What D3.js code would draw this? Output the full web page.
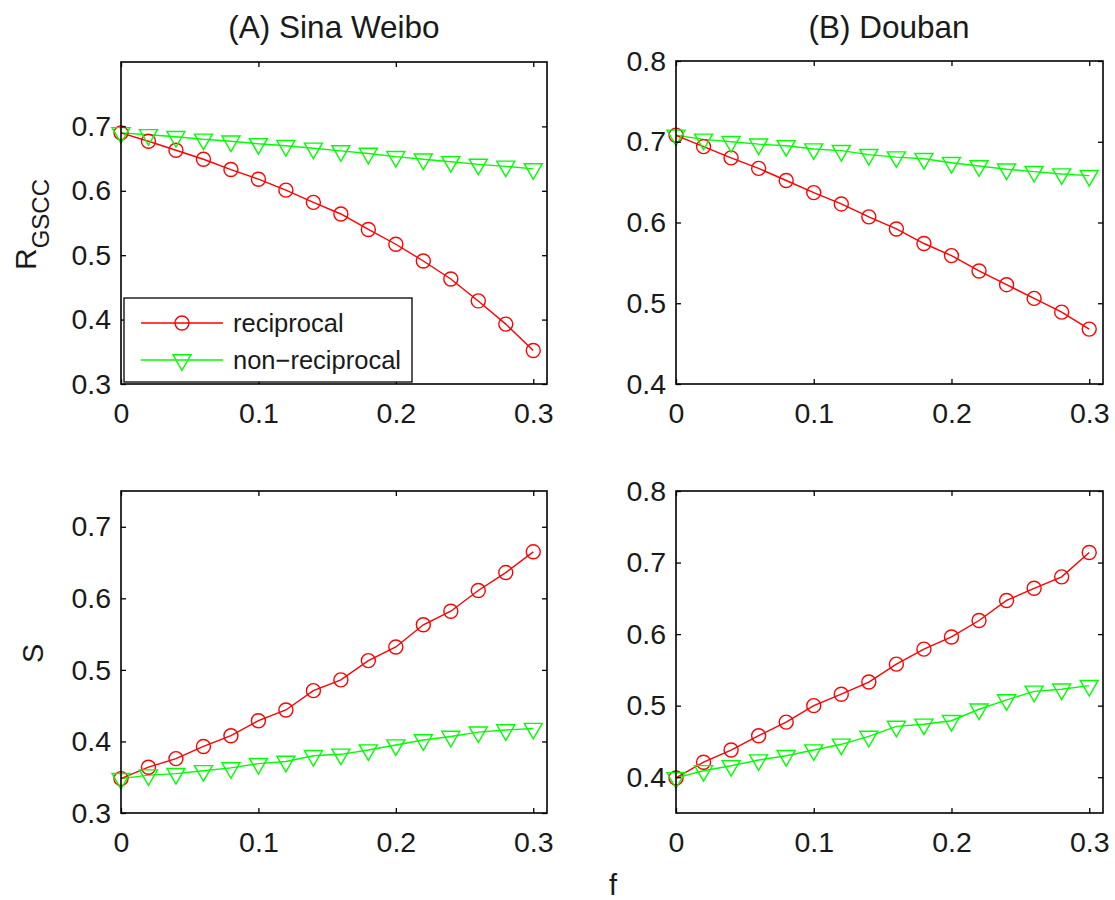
<!DOCTYPE html>
<html>
<head>
<meta charset="utf-8">
<script src="https://cdn.jsdelivr.net/npm/d3@7"></script>
<style>
  body { margin: 0; background: #fff; }
  text { font-family: "Liberation Sans", Arial, Helvetica, sans-serif; fill: #1a1a1a; }
</style>
</head>
<body>
<svg id="chart" width="1115" height="900"></svg>
<script>
// fraction of removed links
const fValues = [0, 0.02, 0.04, 0.06, 0.08, 0.10, 0.12, 0.14, 0.16, 0.18, 0.20, 0.22, 0.24, 0.26, 0.28, 0.30];

// (A) Sina Weibo
const weiboRRec = [0.690, 0.677, 0.663, 0.649, 0.633, 0.618, 0.601, 0.582, 0.564, 0.540, 0.517, 0.491, 0.463, 0.429, 0.393, 0.352];
const weiboRNon = [0.690, 0.687, 0.684, 0.680, 0.677, 0.673, 0.670, 0.666, 0.662, 0.658, 0.653, 0.649, 0.645, 0.641, 0.638, 0.634];
const weiboSRec = [0.348, 0.364, 0.376, 0.393, 0.408, 0.429, 0.444, 0.471, 0.486, 0.513, 0.532, 0.563, 0.582, 0.611, 0.636, 0.665];
const weiboSNon = [0.348, 0.353, 0.355, 0.359, 0.363, 0.369, 0.372, 0.380, 0.382, 0.388, 0.395, 0.402, 0.407, 0.413, 0.416, 0.418];

// (B) Douban
const doubanRRec = [0.708, 0.694, 0.680, 0.667, 0.652, 0.637, 0.623, 0.607, 0.592, 0.574, 0.559, 0.540, 0.523, 0.506, 0.489, 0.468];
const doubanRNon = [0.708, 0.703, 0.700, 0.697, 0.695, 0.691, 0.689, 0.684, 0.681, 0.679, 0.674, 0.670, 0.666, 0.663, 0.660, 0.658];
const doubanSRec = [0.399, 0.421, 0.438, 0.458, 0.477, 0.500, 0.516, 0.533, 0.558, 0.579, 0.596, 0.619, 0.647, 0.664, 0.680, 0.714];
const doubanSNon = [0.399, 0.409, 0.416, 0.424, 0.430, 0.438, 0.446, 0.457, 0.471, 0.474, 0.479, 0.495, 0.508, 0.520, 0.523, 0.528];

const xTicks = [0, 0.1, 0.2, 0.3];
const yTicksA = [0.3, 0.4, 0.5, 0.6, 0.7];
const yTicksB = [0.4, 0.5, 0.6, 0.7, 0.8];
const yTicksC = [0.3, 0.4, 0.5, 0.6, 0.7];
const yTicksD = [0.4, 0.5, 0.6, 0.7, 0.8];

const seriesNames = ['reciprocal', 'non\u2212reciprocal'];
const RED = '#ff0000', GREEN = '#00ff00';

const svg = d3.select('#chart');

// panel boxes in page pixels
const panels = [
  { left: 121, top: 62, w: 426, h: 322, yDomain: [0.3, 0.8], yTicks: yTicksA, rec: weiboRRec, non: weiboRNon, legend: true },
  { left: 676, top: 61, w: 427, h: 323, yDomain: [0.4, 0.8], yTicks: yTicksB, rec: doubanRRec, non: doubanRNon },
  { left: 121, top: 491, w: 426, h: 322, yDomain: [0.3, 0.75], yTicks: yTicksC, rec: weiboSRec, non: weiboSNon },
  { left: 676, top: 491, w: 427, h: 322, yDomain: [0.35, 0.8], yTicks: yTicksD, rec: doubanSRec, non: doubanSNon }
];

const triangle = d3.symbol().type(d3.symbolTriangle).size(140);

function drawCircle(g, x, y) {
  g.append('circle').attr('cx', x).attr('cy', y).attr('r', 7)
    .attr('fill', 'none').attr('stroke', RED).attr('stroke-width', 1.4);
}
function drawTriangle(g, x, y) {
  g.append('path').attr('d', triangle())
    .attr('transform', `translate(${x},${y}) rotate(180)`)
    .attr('fill', 'none').attr('stroke', GREEN).attr('stroke-width', 1.4);
}

panels.forEach(p => {
  const g = svg.append('g').attr('transform', `translate(${p.left},${p.top})`);
  const x = d3.scaleLinear().domain([0, 0.31]).range([0, p.w]);
  const y = d3.scaleLinear().domain(p.yDomain).range([p.h, 0]);

  const line = d3.line().x((d, i) => x(fValues[i])).y(d => y(d));

  // series: lines then markers
  g.append('path').datum(p.non).attr('d', line)
    .attr('fill', 'none').attr('stroke', GREEN).attr('stroke-width', 1.4);
  g.append('path').datum(p.rec).attr('d', line)
    .attr('fill', 'none').attr('stroke', RED).attr('stroke-width', 1.4);
  p.rec.forEach((v, i) => drawCircle(g, x(fValues[i]), y(v)));
  p.non.forEach((v, i) => drawTriangle(g, x(fValues[i]), y(v)));

  // axes with inward ticks on all four sides
  const fmt = d => String(d);
  const bottom = g.append('g').attr('transform', `translate(0,${p.h})`)
    .call(d3.axisBottom(x).tickValues(xTicks).tickFormat(fmt).tickSizeInner(-5).tickSizeOuter(0).tickPadding(19));
  const left = g.append('g')
    .call(d3.axisLeft(y).tickValues(p.yTicks).tickFormat(fmt).tickSizeInner(-5).tickSizeOuter(0).tickPadding(10));
  g.append('g').call(d3.axisTop(x).tickValues(xTicks).tickFormat('').tickSizeInner(-5).tickSizeOuter(0));
  g.append('g').attr('transform', `translate(${p.w},0)`)
    .call(d3.axisRight(y).tickValues(p.yTicks).tickFormat('').tickSizeInner(-5).tickSizeOuter(0));

  g.selectAll('.domain').remove();
  g.selectAll('.tick line').attr('stroke', '#000').attr('stroke-width', 1.3);
  [bottom, left].forEach(a => a.selectAll('text')
    .style('font-size', '28.5px').attr('fill', '#1a1a1a'));

  g.append('rect').attr('width', p.w).attr('height', p.h)
    .attr('fill', 'none').attr('stroke', '#000').attr('stroke-width', 1.6);

  if (p.legend) {
    const lg = svg.append('g').attr('transform', 'translate(124,298)');
    lg.append('rect').attr('width', 288).attr('height', 84)
      .attr('fill', '#fff').attr('stroke', '#000').attr('stroke-width', 1.3);
    seriesNames.forEach((name, i) => {
      const ly = 25 + i * 37;
      lg.append('line').attr('x1', 17).attr('x2', 99).attr('y1', ly).attr('y2', ly)
        .attr('stroke', i === 0 ? RED : GREEN).attr('stroke-width', 1.4);
      if (i === 0) drawCircle(lg, 58, ly); else drawTriangle(lg, 58, ly);
      lg.append('text').attr('x', 109).attr('y', ly + 9)
        .style('font-size', '25.5px').text(name);
    });
  }
});

// titles
svg.append('text').attr('x', 334).attr('y', 38).attr('text-anchor', 'middle')
  .style('font-size', '31.5px').text('(A) Sina Weibo');
svg.append('text').attr('x', 889).attr('y', 38).attr('text-anchor', 'middle')
  .style('font-size', '31.5px').text('(B) Douban');

// y labels
const rLabel = svg.append('text').attr('transform', 'translate(36,270) rotate(-90)')
  .style('font-size', '30px');
rLabel.append('tspan').text('R');
rLabel.append('tspan').attr('dy', 13).style('font-size', '24px').text('GSCC');

svg.append('text').attr('transform', 'translate(43,663) rotate(-90)')
  .style('font-size', '29px').text('S');

// x label
svg.append('text').attr('x', 613).attr('y', 895).attr('text-anchor', 'middle')
  .style('font-size', '29px').text('f');
</script>
</body>
</html>
